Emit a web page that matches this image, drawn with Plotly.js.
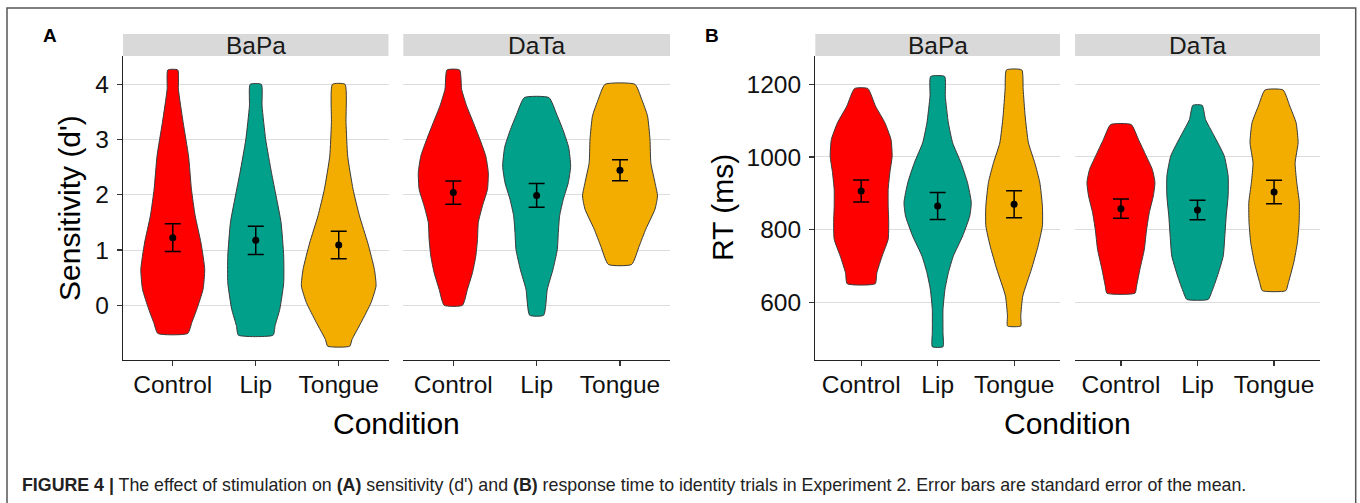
<!DOCTYPE html>
<html>
<head>
<meta charset="utf-8">
<script src="https://cdn.plot.ly/plotly-3.0.1.min.js"></script>
<style>html,body{margin:0;padding:0;background:#fff;}#chart{width:1360px;height:503px;}</style>
</head>
<body>
<div id="chart"></div>
<script>
// ---------------- DATA ----------------
const conditions = ["Control", "Lip", "Tongue"];
const blocks = ["BaPa", "DaTa"];
const colors = ["#FF0000", "#00A08A", "#F2AD00"];

// Panel A: sensitivity (d') — violin outlines: value levels and half-widths (category units)
const dBaPaControlY  = [-0.51, -0.31, -0.07, 0.29, 0.65, 1.13, 1.62, 2.10, 2.70, 3.31, 3.91, 4.26];
const dBaPaControlHW = [0.18, 0.23, 0.29, 0.365, 0.385, 0.34, 0.27, 0.225, 0.19, 0.125, 0.068, 0.06];
const dBaPaLipY      = [-0.54, -0.37, -0.07, 0.41, 0.89, 1.50, 1.98, 2.40, 3.00, 3.61, 4.00];
const dBaPaLipHW     = [0.21, 0.233, 0.29, 0.337, 0.337, 0.305, 0.245, 0.19, 0.12, 0.076, 0.068];
const dBaPaTongueY   = [-0.74, -0.62, -0.31, 0.05, 0.35, 0.65, 1.13, 1.62, 2.10, 2.70, 3.31, 4.00];
const dBaPaTongueHW  = [0.133, 0.16, 0.27, 0.39, 0.45, 0.43, 0.35, 0.25, 0.173, 0.108, 0.088, 0.076];
const dDaTaControlY  = [0.00, 0.29, 0.59, 0.89, 1.19, 1.50, 1.80, 2.10, 2.40, 2.70, 3.00, 3.31, 3.61, 3.91, 4.26];
const dDaTaControlHW = [0.11, 0.17, 0.23, 0.27, 0.29, 0.30, 0.35, 0.41, 0.42, 0.39, 0.32, 0.24, 0.16, 0.10, 0.076];
const dDaTaLipY      = [-0.18, 0.29, 0.65, 1.01, 1.32, 1.62, 1.92, 2.22, 2.52, 2.86, 3.16, 3.46, 3.76];
const dDaTaLipHW     = [0.084, 0.128, 0.196, 0.248, 0.26, 0.276, 0.32, 0.38, 0.408, 0.384, 0.32, 0.24, 0.148];
const dDaTaTongueY   = [0.74, 1.07, 1.38, 1.74, 1.98, 2.22, 2.58, 3.00, 3.43, 3.73, 4.00];
const dDaTaTongueHW  = [0.14, 0.23, 0.31, 0.42, 0.45, 0.42, 0.37, 0.36, 0.33, 0.26, 0.18];

// Panel A: means and standard errors
const dMeanBaPa = [1.225, 1.176, 1.092];
const dSEBaPa   = [0.25, 0.256, 0.25];
const dMeanDaTa = [2.04, 1.99, 2.443];
const dSEDaTa   = [0.21, 0.213, 0.19];

// Panel B: RT (ms) — violin outlines
const rtBaPaControlY  = [652, 682, 728, 774, 820, 865, 911, 957, 1002, 1048, 1094, 1140, 1188];
const rtBaPaControlHW = [0.183, 0.205, 0.274, 0.353, 0.36, 0.353, 0.353, 0.375, 0.405, 0.39, 0.31, 0.187, 0.087];
const rtBaPaLipY      = [479, 518, 582, 637, 682, 728, 783, 838, 875, 930, 984, 1039, 1094, 1167, 1221];
const rtBaPaLipHW     = [0.07, 0.07, 0.07, 0.096, 0.14, 0.205, 0.327, 0.42, 0.44, 0.39, 0.305, 0.196, 0.14, 0.10, 0.092];
const rtBaPaTongueY   = [536, 563, 618, 692, 756, 811, 865, 930, 984, 1039, 1113, 1186, 1239];
const rtBaPaTongueHW  = [0.087, 0.087, 0.113, 0.227, 0.314, 0.37, 0.37, 0.336, 0.27, 0.187, 0.144, 0.118, 0.10];
const rtDaTaControlY  = [626, 646, 692, 746, 801, 847, 893, 930, 966, 1003, 1049, 1089];
const rtDaTaControlHW = [0.183, 0.205, 0.248, 0.305, 0.335, 0.37, 0.423, 0.444, 0.41, 0.33, 0.227, 0.135];
const rtDaTaLipY      = [609, 628, 673, 728, 783, 838, 893, 948, 1003, 1058, 1103, 1142];
const rtDaTaLipHW     = [0.14, 0.183, 0.26, 0.336, 0.357, 0.375, 0.40, 0.40, 0.349, 0.218, 0.105, 0.061];
const rtDaTaTongueY   = [633, 655, 710, 765, 820, 875, 930, 984, 1039, 1094, 1140, 1184];
const rtDaTaTongueHW  = [0.153, 0.187, 0.257, 0.305, 0.327, 0.33, 0.296, 0.275, 0.314, 0.288, 0.205, 0.118];

// Panel B: means and standard errors
const rtMeanBaPa = [906.6, 865.4, 870.0];
const rtSEBaPa   = [30.2, 37.1, 37.0];
const rtMeanDaTa = [858.0, 854.5, 903.9];
const rtSEDaTa   = [26.5, 27.0, 32.5];

const dTicks  = [0, 1, 2, 3, 4];
const rtTicks = [600, 800, 1000, 1200];

const caption = "<b>FIGURE 4 |</b> The effect of stimulation on <b>(A)</b> sensitivity (d') and <b>(B)</b> response time to identity trials in Experiment 2. Error bars are standard error of the mean.";

// ---------------- BUILD ----------------
const W = 1360, H = 503;
const X = px => px / W;
const Y = py => 1 - py / H;
const FONT = "Liberation Sans, Arial, Helvetica, sans-serif";

const facets = [
  {xa: "x",  ya: "y",  dom: [123, 388.5], profiles: [[dBaPaControlY, dBaPaControlHW], [dBaPaLipY, dBaPaLipHW], [dBaPaTongueY, dBaPaTongueHW]], mean: dMeanBaPa, se: dSEBaPa},
  {xa: "x2", ya: "y2", dom: [403.3, 670], profiles: [[dDaTaControlY, dDaTaControlHW], [dDaTaLipY, dDaTaLipHW], [dDaTaTongueY, dDaTaTongueHW]], mean: dMeanDaTa, se: dSEDaTa},
  {xa: "x3", ya: "y3", dom: [815.3, 1060], profiles: [[rtBaPaControlY, rtBaPaControlHW], [rtBaPaLipY, rtBaPaLipHW], [rtBaPaTongueY, rtBaPaTongueHW]], mean: rtMeanBaPa, se: rtSEBaPa},
  {xa: "x4", ya: "y4", dom: [1075, 1320], profiles: [[rtDaTaControlY, rtDaTaControlHW], [rtDaTaLipY, rtDaTaLipHW], [rtDaTaTongueY, rtDaTaTongueHW]], mean: rtMeanDaTa, se: rtSEDaTa}
];

const traces = [];
facets.forEach(f => {
  f.profiles.forEach((p, i) => {
    const c = i + 1;
    const ys = p[0], hw = p[1];
    const rx = ys.map((v, k) => c + hw[k]);
    const lx = ys.map((v, k) => c - hw[k]).reverse();
    const yl = ys.slice().reverse();
    traces.push({
      type: "scatter", mode: "lines", xaxis: f.xa, yaxis: f.ya,
      x: rx.concat(lx, [rx[0]]), y: ys.concat(yl, [ys[0]]),
      fill: "toself", fillcolor: colors[i],
      line: {color: "#3a3a3a", width: 1, shape: "spline", smoothing: 0.5},
      hoverinfo: "skip"
    });
  });
  traces.push({
    type: "scatter", mode: "markers", xaxis: f.xa, yaxis: f.ya,
    x: [1, 2, 3], y: f.mean,
    marker: {color: "#000", size: 7},
    error_y: {type: "data", array: f.se, visible: true, color: "#000", thickness: 1.5, width: 8}
  });
});

const yDom = [Y(360), Y(56)];
const dRange = [-0.99, 4.513];
const rtRange = [442.6, 1277.3];

function xaxis(dom, anchor) {
  return {
    domain: [X(dom[0]), X(dom[1])], anchor: anchor, range: [0.4, 3.6],
    tickmode: "array", tickvals: [1, 2, 3], ticktext: conditions,
    ticks: "outside", ticklen: 5, tickwidth: 1.2, tickcolor: "#333",
    ticklabelstandoff: -3,
    showline: true, linecolor: "#222", linewidth: 1.3,
    showgrid: false, zeroline: false, fixedrange: true,
    tickfont: {family: FONT, size: 24.5, color: "#111"}
  };
}
function yaxis(range, ticks, anchor, show) {
  return {
    domain: yDom, anchor: anchor, range: range,
    tickmode: "array", tickvals: ticks, ticktext: ticks.map(String),
    showticklabels: show, ticks: show ? "outside" : "", ticklen: 5, tickwidth: 1.2, tickcolor: "#333",
    ticklabelstandoff: 3,
    showline: show, linecolor: "#222", linewidth: 1.3,
    showgrid: true, gridcolor: "#dcdcdc", gridwidth: 1,
    zeroline: false, fixedrange: true,
    tickfont: {family: FONT, size: 24.5, color: "#111"}
  };
}

const shapes = [
  {type: "rect", xref: "paper", yref: "paper", x0: X(7), x1: X(1355.7), y0: -0.05, y1: Y(8), line: {color: "#555", width: 1.5}, fillcolor: "rgba(0,0,0,0)", layer: "below"}
];
const annotations = [];
facets.forEach((f, k) => {
  shapes.push({type: "rect", xref: "paper", yref: "paper", x0: X(f.dom[0]), x1: X(f.dom[1]), y0: Y(56), y1: Y(34), line: {width: 0}, fillcolor: "#d9d9d9", layer: "below"});
  annotations.push({xref: "paper", yref: "paper", x: X((f.dom[0] + f.dom[1]) / 2), y: Y(45.5), text: blocks[k % 2], showarrow: false, xanchor: "center", yanchor: "middle", font: {family: FONT, size: 24.5, color: "#1a1a1a"}});
});
// panel labels
annotations.push({xref: "paper", yref: "paper", x: X(50), y: Y(35), text: "<b>A</b>", showarrow: false, xanchor: "center", yanchor: "middle", font: {family: FONT, size: 19, color: "#000"}});
annotations.push({xref: "paper", yref: "paper", x: X(712), y: Y(35), text: "<b>B</b>", showarrow: false, xanchor: "center", yanchor: "middle", font: {family: FONT, size: 19, color: "#000"}});
// axis titles
annotations.push({xref: "paper", yref: "paper", x: X(396.5), y: Y(423), text: "Condition", showarrow: false, xanchor: "center", yanchor: "middle", font: {family: FONT, size: 30, color: "#000"}});
annotations.push({xref: "paper", yref: "paper", x: X(1067.5), y: Y(423), text: "Condition", showarrow: false, xanchor: "center", yanchor: "middle", font: {family: FONT, size: 30, color: "#000"}});
annotations.push({xref: "paper", yref: "paper", x: X(70), y: Y(208), text: "Sensitivity (d')", textangle: -90, showarrow: false, xanchor: "center", yanchor: "middle", font: {family: FONT, size: 30, color: "#000"}});
annotations.push({xref: "paper", yref: "paper", x: X(723), y: Y(208), text: "RT (ms)", textangle: -90, showarrow: false, xanchor: "center", yanchor: "middle", font: {family: FONT, size: 30, color: "#000"}});
// caption
annotations.push({xref: "paper", yref: "paper", x: X(20), y: Y(485), text: caption, showarrow: false, xanchor: "left", yanchor: "middle", font: {family: FONT, size: 17.8, color: "#222"}});

const layout = {
  width: W, height: H, margin: {l: 0, r: 0, t: 0, b: 0},
  paper_bgcolor: "#fff", plot_bgcolor: "#fff", showlegend: false,
  font: {family: FONT},
  xaxis: xaxis(facets[0].dom, "y"),
  xaxis2: xaxis(facets[1].dom, "y2"),
  xaxis3: xaxis(facets[2].dom, "y3"),
  xaxis4: xaxis(facets[3].dom, "y4"),
  yaxis: yaxis(dRange, dTicks, "x", true),
  yaxis2: yaxis(dRange, dTicks, "x2", false),
  yaxis3: yaxis(rtRange, rtTicks, "x3", true),
  yaxis4: yaxis(rtRange, rtTicks, "x4", false),
  shapes: shapes, annotations: annotations
};

Plotly.newPlot("chart", traces, layout, {staticPlot: true, displayModeBar: false});
</script>
</body>
</html>
